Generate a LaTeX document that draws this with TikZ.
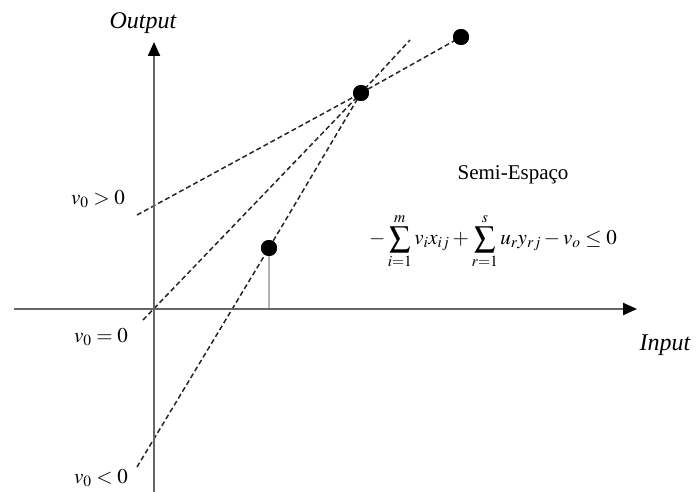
\documentclass[tikz,border=0pt]{standalone}
\usepackage{mathptmx}
\usepackage[no-math]{fontspec}
\setmainfont{Liberation Serif}
\usetikzlibrary{positioning}
\usetikzlibrary{arrows.meta}

\begin{document}
\begin{tikzpicture}[
  x=1pt, y=-1pt,
  every node/.style={font=\fontsize{21}{25}\selectfont},
  axislbl/.style={font=\fontsize{24}{28}\selectfont\itshape},
  axis/.style={draw=black!60, line width=2.2pt, -{Triangle[black, length=14pt, width=12pt]}},
  guide/.style={draw=black!85, line width=1.5pt, dash pattern=on 5pt off 3pt},
  drop/.style={draw=black!30, line width=1.2pt},
  dot/.style={circle, fill=black, inner sep=0pt, minimum size=16pt},
  >=latex
]
\useasboundingbox (0,0) rectangle (696,492);

\coordinate (o) at (154,309);
\coordinate (ybot) at (154,492);
\coordinate (ytop) at (154,42);
\coordinate (xleft) at (14,309);
\coordinate (xright) at (637,309);

\node[dot] (p1) at (269,248) {};
\node[dot] (p2) at (361,93) {};
\node[dot] (p3) at (461,37) {};

\coordinate (pos) at (137,215);
\coordinate (zero) at (143,320);
\coordinate (zeroend) at (410,40);
\coordinate (neg) at (137,467);

\draw[guide] (pos) -- (p2.center);
\draw[guide] (zero) -- (p2.center) -- (zeroend);
\draw[guide] (neg) -- (p1.center) -- (p2.center);
\draw[guide] (p2.center) -- (p3.center);
\draw[drop] (p1.center) -- (p1 |- o);

\draw[axis] (ybot) -- (ytop);
\draw[axis] (xleft) -- (xright);

\node[dot] at (p1) {};
\node[dot] at (p2) {};
\node[dot] at (p3) {};

\node[axislbl] (outlbl) at (143,23) {Output};
\node[axislbl] (inlbl) at (665,345) {Input};

\node (lpos) at (98,199) {$v_0 >0$};
\node (lzero) at (101,337) {$v_0 = 0$};
\node (lneg) at (101,478) {$v_0 < 0$};

\node (semi) at (513,175) {Semi-Espaço};
\node[below=22pt of semi, xshift=-20pt] (ineq)
  {$\displaystyle -\sum_{i=1}^{m} v_i x_{ij} + \sum_{r=1}^{s} u_r y_{rj} - v_o \le 0$};
\end{tikzpicture}
\end{document}
